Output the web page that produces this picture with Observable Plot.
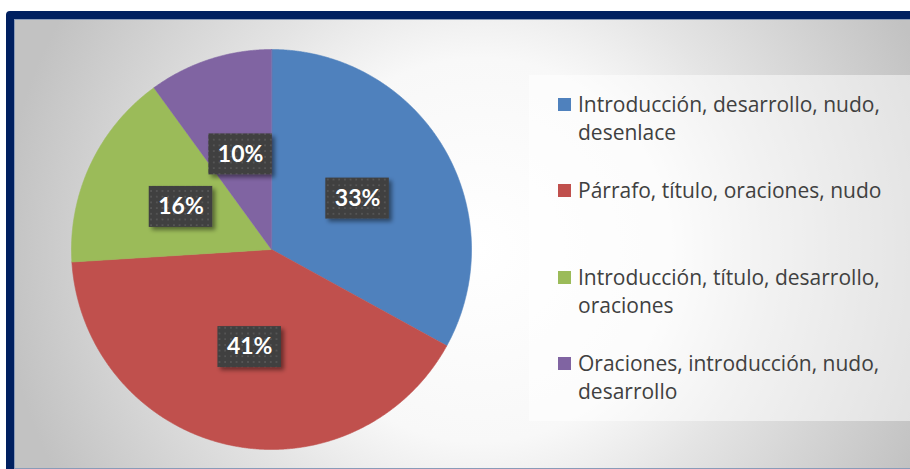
<!DOCTYPE html>
<html><head><meta charset="utf-8">
<script src="https://cdn.jsdelivr.net/npm/d3@7"></script>
<script src="https://cdn.jsdelivr.net/npm/@observablehq/plot@0.6"></script>
<style>
html,body{margin:0;padding:0;background:#fff;width:910px;height:469px;overflow:hidden;position:relative;}
#frame{position:absolute;left:6px;top:11px;width:920px;height:450px;border:8px solid #002060;border-radius:4px;
  background:radial-gradient(circle 480px at 466px 231px,#ffffff 0%,#f8f8f8 40%,#e4e4e4 60%,#c2c2c2 100%);
  box-shadow:inset 0 0 0 1px #8a9bb8;}
#chart{position:absolute;left:0;top:0;}
#legend{position:absolute;left:529px;top:75px;width:400px;height:346px;background:rgba(255,255,255,0.5);
  font-family:"Open Sans",Lato,sans-serif;font-size:21px;line-height:28px;color:#404040;}
.item{position:absolute;left:49px;white-space:pre;}
.sw{position:absolute;left:-20px;top:8px;width:13px;height:13px;}
</style></head>
<body>
<div id="frame"></div>
<div id="chart"></div>
<div id="legend"></div>
<script>
const categories = [
  "Introducción, desarrollo, nudo,\ndesenlace",
  "Párrafo, título, oraciones, nudo",
  "Introducción, título, desarrollo,\noraciones",
  "Oraciones, introducción, nudo,\ndesarrollo"
];
const values = [33, 41, 16, 10];
const colors = ["#4f81bd", "#c0504d", "#9bbb59", "#8064a2"];

const arcs = d3.pie().sort(null).value(d => d)(values);
const slicePts = arcs.flatMap((a, i) => {
  const n = Math.max(2, Math.ceil((a.endAngle - a.startAngle) / 0.005));
  const pts = [{cat: categories[i], x: 0, y: 0}];
  for (let k = 0; k <= n; k++) {
    const t = a.startAngle + (a.endAngle - a.startAngle) * k / n;
    pts.push({cat: categories[i], x: Math.sin(t), y: Math.cos(t)});
  }
  return pts;
});
const labels = arcs.map((a, i) => {
  const m = (a.startAngle + a.endAngle) / 2;
  return {x: 0.5 * Math.sin(m), y: 0.5 * Math.cos(m), text: values[i] + "%"};
});

const chart = Plot.plot({
  width: 910, height: 469, margin: 0,
  style: {background: "transparent", overflow: "visible"},
  x: {domain: [-1, 1], range: [71, 471], axis: null},
  y: {domain: [-1, 1], range: [449, 49], axis: null},
  color: {domain: categories, range: colors},
  marks: [
    Plot.line(slicePts, {x: "x", y: "y", z: "cat", fill: "cat", stroke: "cat", strokeWidth: 0.6, curve: "linear-closed"}),
    Plot.text(labels, {x: "x", y: "y", text: "text", fill: "white", fontSize: 23, fontWeight: "bold", fontFamily: "Lato"})
  ]
});
document.getElementById("chart").appendChild(chart);

// label boxes with dotted pattern and shadow
const svg = d3.select(chart);
const defs = svg.insert("defs", ":first-child");
const pat = defs.append("pattern").attr("id", "dots").attr("patternUnits", "userSpaceOnUse")
  .attr("width", 5.7).attr("height", 5.7);
pat.append("rect").attr("width", 5.7).attr("height", 5.7).attr("fill", "#3f3f3f");
pat.append("rect").attr("x", 2).attr("y", 2).attr("width", 1.8).attr("height", 1.8).attr("fill", "#565656");
const flt = defs.append("filter").attr("id", "sh").attr("x", "-30%").attr("y", "-30%").attr("width", "160%").attr("height", "160%");
flt.append("feDropShadow").attr("dx", 3).attr("dy", 3).attr("stdDeviation", 2.2).attr("flood-color", "#000").attr("flood-opacity", 0.45);

const textG = svg.select('g[aria-label="text"]');
const boxG = svg.insert("g", 'g[aria-label="text"]');
const sx = chart.scale("x"), sy = chart.scale("y");
textG.selectAll("text").each(function(_, i) {
  const bb = this.getBBox();
  const w = bb.width + 18, h = 41;
  const cx = sx.apply(labels[i].x), cy = sy.apply(labels[i].y);
  boxG.append("rect").attr("x", cx - w / 2).attr("y", cy - h / 2).attr("width", w).attr("height", h)
    .attr("fill", "url(#dots)").attr("filter", "url(#sh)");
});

// legend
const leg = d3.select("#legend");
categories.forEach((c, i) => {
  const it = leg.append("div").attr("class", "item").style("top", (14.9 + i * 86.3) + "px").text(c);
  it.append("div").attr("class", "sw").style("background", colors[i]);
});
</script>
</body></html>
